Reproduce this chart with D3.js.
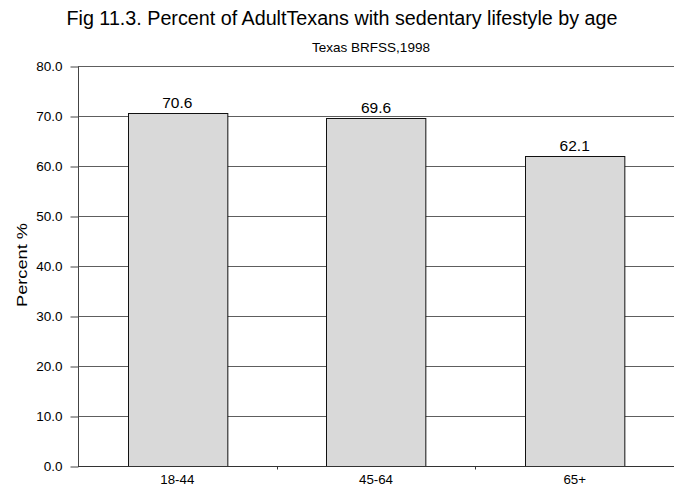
<!DOCTYPE html>
<html>
<head>
<meta charset="utf-8">
<script src="https://cdn.jsdelivr.net/npm/d3@7"></script>
<style>
  html, body { margin: 0; padding: 0; background: #fff; }
  svg { display: block; font-family: "Liberation Sans", Arial, sans-serif; }
</style>
</head>
<body>
<svg id="chart" width="681" height="487"></svg>
<script>
// Age groups and share of adults reporting a sedentary lifestyle (%)
const ageGroups = ["18-44", "45-64", "65+"];
const percentSedentary = [70.6, 69.6, 62.1];
const yTicks = [0, 10, 20, 30, 40, 50, 60, 70, 80];

const svg = d3.select("#chart");
const plot = { left: 78, right: 674, top: 66, bottom: 466 };

const x = d3.scaleBand()
  .domain(ageGroups)
  .range([plot.left, plot.right])
  .paddingInner(0.5)
  .paddingOuter(0.25);

const y = d3.scaleLinear()
  .domain([0, 80])
  .range([plot.bottom, plot.top]);

// Titles
svg.append("text")
  .attr("x", 342).attr("y", 25)
  .attr("text-anchor", "middle")
  .attr("font-size", 19.5)
  .attr("textLength", 551)
  .attr("lengthAdjust", "spacingAndGlyphs")
  .text("Fig 11.3. Percent of AdultTexans with sedentary lifestyle by age");

svg.append("text")
  .attr("x", 371).attr("y", 52)
  .attr("text-anchor", "middle")
  .attr("font-size", 13.5)
  .text("Texas BRFSS,1998");

// Horizontal gridlines
svg.append("g")
  .selectAll("line")
  .data(yTicks)
  .join("line")
  .attr("x1", plot.left).attr("x2", plot.right)
  .attr("y1", d => y(d) + 0.5).attr("y2", d => y(d) + 0.5)
  .attr("stroke", "#5e5e5e")
  .attr("stroke-width", 1);

// Y axis
const yAxis = svg.append("g")
  .attr("transform", `translate(${plot.left + 0.5},0.5)`)
  .call(d3.axisLeft(y).tickValues(yTicks).tickFormat(d3.format(".1f")).tickSize(8).tickPadding(8));
yAxis.select(".domain").attr("stroke", "#444").attr("d", `M0,${plot.top}V${plot.bottom}`);
yAxis.selectAll(".tick line").attr("stroke", "#444");
yAxis.selectAll(".tick text")
  .attr("font-size", 13.5)
  .attr("font-family", "Liberation Sans, Arial, sans-serif")
  .attr("fill", "#000");

// Bars
svg.append("g")
  .selectAll("rect")
  .data(ageGroups)
  .join("rect")
  .attr("x", d => Math.round(x(d)) + 0.5)
  .attr("y", (d, i) => Math.round(y(percentSedentary[i])) + 0.5)
  .attr("width", x.bandwidth())
  .attr("height", (d, i) => Math.round(y(0)) - Math.round(y(percentSedentary[i])))
  .attr("fill", "#d9d9d9")
  .attr("stroke", "#111")
  .attr("stroke-width", 1);

// Value labels
svg.append("g")
  .selectAll("text")
  .data(ageGroups)
  .join("text")
  .attr("x", d => x(d) + x.bandwidth() / 2)
  .attr("y", (d, i) => y(percentSedentary[i]) - 5)
  .attr("text-anchor", "middle")
  .attr("font-size", 15.5)
  .text((d, i) => percentSedentary[i].toFixed(1));

// X axis
const xAxis = svg.append("g")
  .attr("transform", `translate(0,${plot.bottom + 0.5})`);
xAxis.append("line")
  .attr("x1", plot.left).attr("x2", plot.right)
  .attr("stroke", "#333");
const boundaries = ageGroups.map((d, i) => plot.left + (i + 1) * (plot.right - plot.left) / ageGroups.length);
xAxis.selectAll(".bt")
  .data(boundaries.slice(0, -1))
  .join("line")
  .attr("class", "bt")
  .attr("x1", d => Math.round(d) + 0.5).attr("x2", d => Math.round(d) + 0.5)
  .attr("y1", 0).attr("y2", 3)
  .attr("stroke", "#333");
xAxis.selectAll(".lbl")
  .data(ageGroups)
  .join("text")
  .attr("class", "lbl")
  .attr("x", d => x(d) + x.bandwidth() / 2)
  .attr("y", 17.5)
  .attr("text-anchor", "middle")
  .attr("font-size", 13.3)
  .text(d => d);

// Y axis title
svg.append("text")
  .attr("transform", "translate(27,265) rotate(-90)")
  .attr("text-anchor", "middle")
  .attr("font-size", 15)
  .attr("textLength", 84)
  .attr("lengthAdjust", "spacingAndGlyphs")
  .text("Percent %");
</script>
</body>
</html>
